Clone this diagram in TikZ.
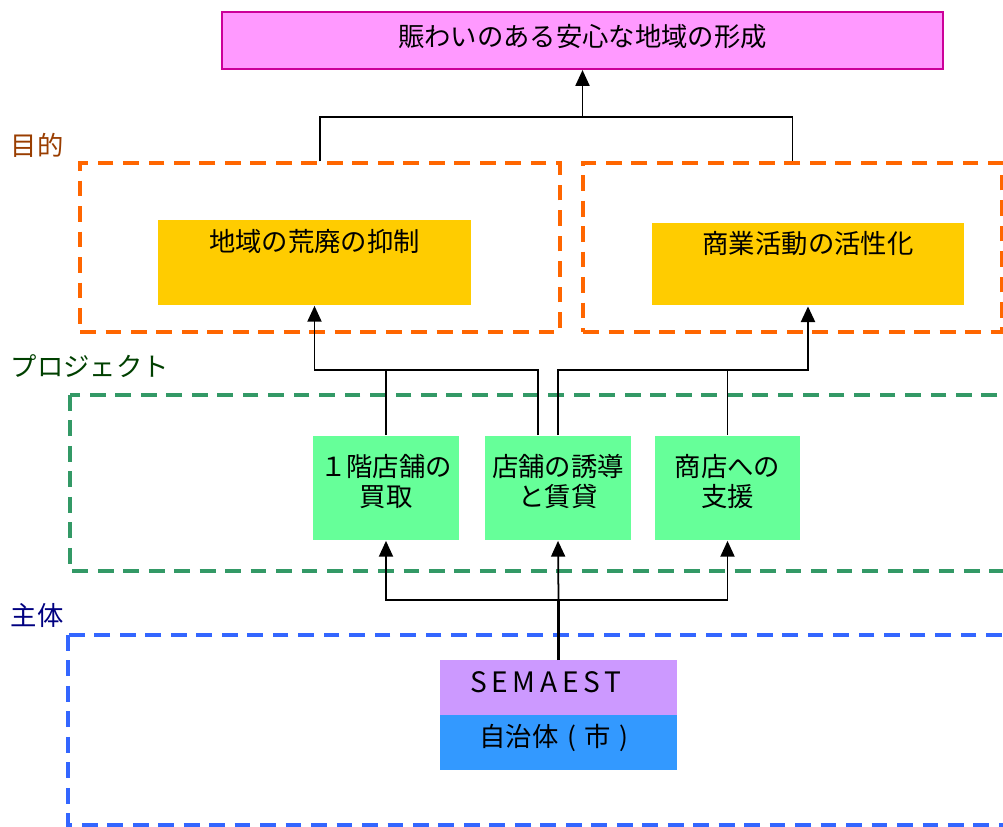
\documentclass[tikz,border=0pt]{standalone}
\usepackage{fontspec}
\setmainfont{Noto Sans CJK JP}
\usepackage{tikz}
\usetikzlibrary{arrows.meta,positioning}
\definecolor{goalpink}{HTML}{FF99FF}
\definecolor{goalline}{HTML}{CC0099}
\definecolor{aimyellow}{HTML}{FFCC00}
\definecolor{actgreen}{HTML}{66FF99}
\definecolor{semviolet}{HTML}{CC99FF}
\definecolor{cityblue}{HTML}{3399FF}
\definecolor{dashorange}{HTML}{FF6600}
\definecolor{dashgreen}{HTML}{339966}
\definecolor{dashblue}{HTML}{3366FF}
\tikzset{arr/.style={-{Triangle[width=8pt,length=9pt]},line width=1pt},
         dashframe/.style={dash pattern=on 9pt off 5.5pt,line width=2pt},
         aimbox/.style={fill=aimyellow,inner sep=0pt,minimum width=6.26cm,text height=0.62cm,text depth=1.08cm},
         actbox/.style={fill=actgreen,inner sep=0pt,minimum width=2.92cm,text height=1.4cm,text depth=0.68cm,align=center},
         whobox/.style={inner sep=0pt,outer sep=0pt,minimum width=4.74cm,text height=0.64cm,text depth=0.46cm}}

\begin{document}
\begin{tikzpicture}[x=0.02cm,y=-0.02cm,font=\fontsize{15pt}{17pt}\selectfont,line width=1pt]
                \useasboundingbox (0,0) rectangle (1003,827);
                \clip (0,0) rectangle (1003,827);
                \node[draw=goalline,line width=1.2pt,fill=goalpink,minimum width=14.42cm,inner sep=0pt,text height=0.7cm,text depth=0.44cm] (goal) at (582.5,40.5) {賑わいのある安心な地域の形成};
                \node[anchor=west,text=dashorange!60!black] (lblaim) at (4,145) {目的};
                \node[anchor=west,text=green!25!black] (lblact) at (4,366) {プロジェクト};
                \node[anchor=west,text=blue!50!black] (lblwho) at (4,615) {主体};
                \node[draw=dashorange,dashframe,minimum width=9.6cm,minimum height=3.38cm] (frameL) at (320,247.5) {};
                \node[draw=dashorange,dashframe,minimum width=8.38cm,minimum height=3.38cm] (frameR) at (792.5,247.5) {};
                \draw[dashgreen,dashframe] (70,395) rectangle (1020,571);
                \draw[dashblue,dashframe] (68,635) rectangle (1020,825);
                \node[aimbox] (aim1) at (314.5,262.5) {地域の荒廃の抑制};
                \node[aimbox,text depth=1.04cm] (aim2) at (808,264) {商業活動の活性化};
                \node[actbox] (act1) at (386,488) {１階店舗の\\買取};
                \node[actbox] (act2) at (558,488) {店舗の誘導\\と賃貸};
                \node[actbox] (act3) at (727.5,488) {商店への\\支援};
                \node[whobox,fill=semviolet] (sem) at (558.5,687.5) {\hspace*{-0.5cm}\fontsize{16pt}{17pt}\selectfont S\,E\,M\,A\,E\,S\,T};
                \node[whobox,fill=cityblue,below=0pt of sem] (city) {自治体\makebox[1em]{(}市\makebox[1em]{)}};
                \coordinate (jtop) at (goal.south |- 0,117);
                \draw (frameL.north) |- (jtop) -| (frameR.north);
                \draw[arr] (jtop) -- (goal.south);
                \coordinate (jl) at (aim1.south |- 0,370);
                \coordinate (jr) at (aim2.south |- 0,370);
                \draw[arr] (act1.north) |- (jl) -- (aim1.south);
                \draw ([xshift=-0.4cm]act2.north) |- (jl);
                \draw[arr,line width=1.4pt] (act2.north) |- (jr) -- (aim2.south);
                \draw (act3.north) -- (act3.north |- jr);
                \coordinate (jb) at (sem.north |- 0,600);
                \draw[line width=1.4pt] (sem.north) -- (jb);
                \draw[arr] (jb) -- (act2.south);
                \draw[arr] (jb) -| (act1.south);
                \draw[arr] (jb) -| (act3.south);
            \end{tikzpicture}
\end{document}
